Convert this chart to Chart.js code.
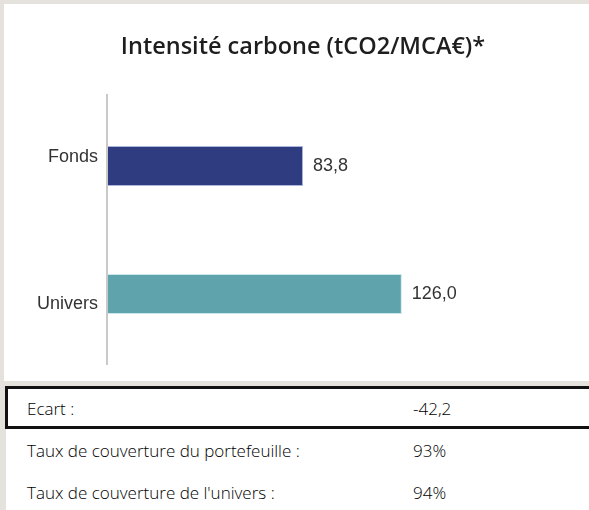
<!DOCTYPE html>
<html>
<head>
<meta charset="utf-8">
<script src="https://cdn.jsdelivr.net/npm/chart.js@4.4.1/dist/chart.umd.min.js"></script>
<style>
  html, body { margin: 0; padding: 0; }
  body { width: 589px; height: 510px; background: #e5e1dc; position: relative; overflow: hidden; }
  #panel { position: absolute; left: 4px; top: 4px; width: 585px; height: 377px; background: #fff; }
  #title { position: absolute; left: 0; width: 606px; top: 29px; text-align: center;
           font-family: "Open Sans", sans-serif; font-weight: 600; font-size: 23.5px; color: #1e1e1e; }
  #chartBox { position: absolute; left: 0; top: 0; width: 585px; height: 377px; }
  .rows { position: absolute; left: 5px; top: 386px; width: 640px;
          font-family: "Open Sans", sans-serif; font-weight: 300; font-size: 17px; color: #000; }
  .row { position: relative; height: 42px; background: #fff; box-sizing: border-box; margin-left: 1px; }
  .row.first { border: 3px solid #111; margin-left: 0; height: 43px; }
  .row span { position: absolute; top: 50%; transform: translateY(-50%); }
  .row .lab { left: 21px; }
  .row .val { left: 407px; }
  .row.first .lab { left: 19px; }
  .row.first .val { left: 405px; }
</style>
</head>
<body>
<div id="panel">
  <div id="chartBox"><canvas id="bars" width="585" height="377"></canvas></div>
</div>
<div id="title">Intensité carbone (tCO2/MCA€)*</div>
<div class="rows" id="rows"></div>

<script>
const categories = ['Fonds', 'Univers'];
const values = [83.8, 126.0];
const barColors = ['#2f3c7f', '#5fa3ad'];

const summaryLabels = ['Ecart :', 'Taux de couverture du portefeuille :', 'Taux de couverture de l\'univers :'];
const summaryValues = ['-42,2', '93%', '94%'];

// table below the chart
const rowsDiv = document.getElementById('rows');
summaryLabels.forEach((lab, i) => {
  const row = document.createElement('div');
  row.className = i === 0 ? 'row first' : 'row';
  row.innerHTML = '<span class="lab">' + lab + '</span><span class="val">' + summaryValues[i] + '</span>';
  rowsDiv.appendChild(row);
});

const fmt = v => v.toFixed(1).replace('.', ',');
const labelShift = [-9, 10]; // category labels sit a bit off the bar centre in the original

// category labels, value labels and the vertical axis line
const barExtras = {
  id: 'barExtras',
  afterDatasetsDraw(chart) {
    const ctx = chart.ctx;
    const area = chart.chartArea;
    const yScale = chart.scales.y;
    ctx.save();
    ctx.strokeStyle = '#c9c9c9';
    ctx.lineWidth = 2;
    ctx.beginPath();
    ctx.moveTo(area.left, area.top - 8);
    ctx.lineTo(area.left, area.bottom + 7);
    ctx.stroke();

    ctx.fillStyle = '#333';
    ctx.font = '18px "Liberation Sans", Arial, sans-serif';
    ctx.textBaseline = 'middle';
    ctx.textAlign = 'right';
    categories.forEach((c, i) => {
      ctx.fillText(c, area.left - 9, yScale.getPixelForTick(i) + labelShift[i]);
    });

    ctx.textAlign = 'left';
    chart.getDatasetMeta(0).data.forEach((bar, i) => {
      ctx.fillText(fmt(values[i]), bar.x + 10, bar.y);
    });
    ctx.restore();
  }
};

new Chart(document.getElementById('bars'), {
  type: 'bar',
  data: {
    labels: categories,
    datasets: [{
      data: values,
      backgroundColor: barColors,
      borderColor: ['rgba(150,165,215,0.8)', 'rgba(190,225,230,0.8)'],
      borderWidth: 1,
      borderSkipped: 'left',
      barPercentage: 1,
      categoryPercentage: 0.3125
    }]
  },
  options: {
    indexAxis: 'y',
    responsive: false,
    animation: false,
    layout: { padding: { top: 98, bottom: 23, right: 14, left: 0 } },
    plugins: { legend: { display: false }, tooltip: { enabled: false } },
    scales: {
      x: { display: false, min: 0, max: 200 },
      y: {
        afterFit(scale) { scale.width = 103; },
        border: { display: false },
        grid: { display: false, drawTicks: false },
        ticks: { display: false }
      }
    }
  },
  plugins: [barExtras]
});
</script>
</body>
</html>
